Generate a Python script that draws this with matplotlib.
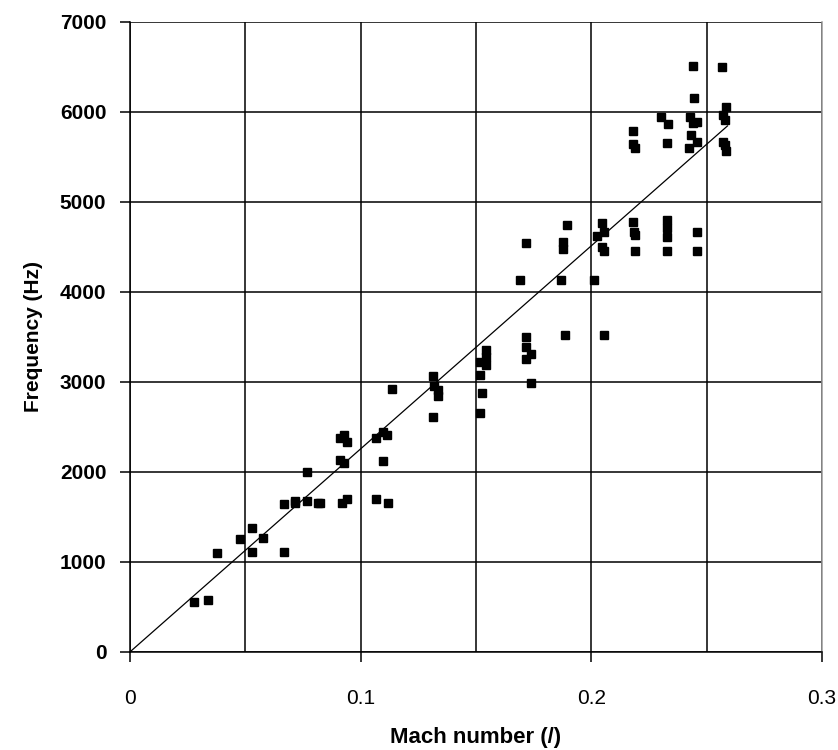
import matplotlib.pyplot as plt
from matplotlib.ticker import MultipleLocator

mach = [0.0277, 0.034, 0.0376, 0.0477, 0.0528, 0.0528, 0.0575, 0.0668, 0.0668,
        0.0715, 0.0715, 0.0766, 0.0766, 0.0814, 0.0824,
        0.091, 0.093, 0.094, 0.091, 0.093, 0.0918, 0.094,
        0.1066, 0.1098, 0.1116, 0.1098, 0.1066, 0.1117, 0.1134,
        0.1315, 0.1318, 0.1337, 0.1337, 0.1315,
        0.1517, 0.1525, 0.1517, 0.1517, 0.1543, 0.1543, 0.1543,
        0.1717, 0.1717, 0.1717, 0.1737, 0.1737, 0.1887,
        0.1692, 0.1867, 0.1893, 0.1717, 0.1876, 0.1876, 0.2013,
        0.2045, 0.2026, 0.2055, 0.2045, 0.2055, 0.2055,
        0.2182, 0.2185, 0.219, 0.219,
        0.2326, 0.2326, 0.2326, 0.2326, 0.246, 0.246,
        0.2182, 0.2182, 0.219, 0.2301, 0.2334, 0.233,
        0.2442, 0.2445, 0.2428, 0.2442, 0.2459, 0.2431, 0.2459, 0.2425,
        0.2568, 0.2584, 0.257, 0.258, 0.257, 0.258, 0.2584]
freq = [559, 578, 1103, 1252, 1374, 1108, 1270, 1115, 1644,
        1680, 1650, 2004, 1678, 1652, 1659,
        2374, 2411, 2337, 2133, 2096, 1659, 1697,
        2374, 2448, 2411, 2126, 1700, 1659, 2919,
        3067, 2956, 2911, 2844, 2615,
        2652, 2874, 3078, 3226, 3356, 3281, 3189,
        3496, 3393, 3252, 3311, 2985, 3519,
        4133, 4133, 4744, 4541, 4559, 4474, 4133,
        4763, 4622, 4667, 4504, 4459, 3522,
        4781, 4670, 4633, 4459,
        4800, 4707, 4615, 4459, 4670, 4459,
        5789, 5644, 5596, 5941, 5863, 5652,
        6511, 6152, 5948, 5874, 5893, 5744, 5670, 5596,
        6496, 6059, 5967, 5911, 5670, 5633, 5570]

x_ticks = [0, 0.1, 0.2, 0.3]
x_labels = ['0', '0.1', '0.2', '0.3']

# trend line end points
fit_mach = [0.0, 0.259]
fit_freq = [0, 5845]

plt.rcParams['font.family'] = ['Liberation Sans', 'DejaVu Sans']

fig = plt.figure(figsize=(8.38, 7.5), dpi=100)
ax = fig.add_axes([0.155, 0.1307, 0.826, 0.84])

ax.plot(fit_mach, fit_freq, color='black', lw=0.9, zorder=3)
ax.plot(mach, freq, 's', color='black', ms=5.8, zorder=4)

ax.set_xlim(0, 0.3)
ax.set_ylim(0, 7000)
ax.set_xticks(x_ticks)
ax.set_xticklabels(x_labels)
ax.xaxis.set_minor_locator(MultipleLocator(0.05))
ax.yaxis.set_major_locator(MultipleLocator(1000))

ax.grid(which='both', color='black', lw=1.1)
ax.set_axisbelow(True)
ax.spines['top'].set_visible(False)
ax.spines['right'].set_color('#999999')
ax.spines['right'].set_linewidth(1.1)
ax.spines['left'].set_linewidth(1.1)
ax.spines['bottom'].set_linewidth(1.1)

ax.tick_params(axis='x', which='major', length=7, width=1.1, pad=20, labelsize=15)
ax.tick_params(axis='x', which='minor', length=0)
ax.tick_params(axis='y', length=7, width=1.1, pad=10, labelsize=15)
for lab in ax.get_yticklabels():
    lab.set_fontweight('bold')

ax.set_xlabel('Mach number (/)', fontsize=16, fontweight='bold', labelpad=13)
ax.set_ylabel('Frequency (Hz)', fontsize=15, fontweight='bold', labelpad=12)

fig.savefig('out.png', dpi=100)
